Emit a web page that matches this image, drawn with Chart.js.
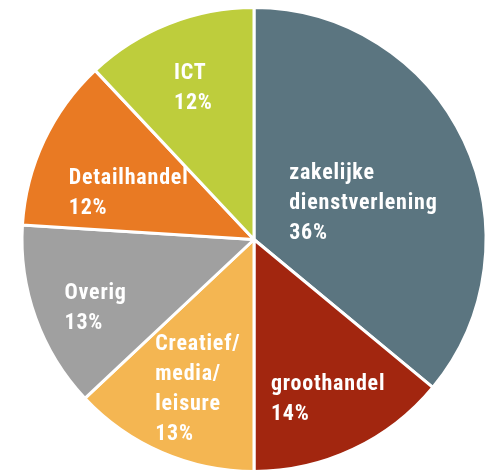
<!DOCTYPE html>
<html>
<head>
<meta charset="utf-8">
<script src="https://cdn.jsdelivr.net/npm/chart.js@4.4.1/dist/chart.umd.min.js"></script>
<style>
  html, body { margin: 0; padding: 0; background: #fff; }
  #wrap { width: 495px; height: 473px; }
</style>
</head>
<body>
<div id="wrap"><canvas id="pie"></canvas></div>
<script>
// sectoren, met de klok mee vanaf 12 uur
const categories = [
    ['zakelijke', 'dienstverlening'],
    ['groothandel'],
    ['Creatief/', 'media/', 'leisure'],
    ['Overig'],
    ['Detailhandel'],
    ['ICT']
];
const shares = [36, 14, 13, 13, 12, 12];
const sliceColors = ['#5B7580', '#A2260F', '#F4B652', '#A0A0A0', '#E97A23', '#BECD3C'];

// plaats van de labels in elke sector (hoek-correctie in graden, fractie van de straal)
const labelAngleShift = [5.7, 0, -2.5, -2.9, -3.9, 0];
const labelRadius = [0.50, 0.75, 0.68, 0.74, 0.58, 0.71];

const labelFont = "bold 22px 'Roboto Condensed', 'Liberation Sans Narrow', 'DejaVu Sans Condensed', sans-serif";
const lineHeight = 30;

// labels zelf tekenen, in de sectoren
const sliceLabels = {
    id: 'sliceLabels',
    afterDatasetsDraw(chart) {
        const ctx = chart.ctx;
        const arcs = chart.getDatasetMeta(0).data;
        ctx.save();
        ctx.font = labelFont;
        ctx.fillStyle = '#fff';
        ctx.textAlign = 'left';
        ctx.textBaseline = 'alphabetic';
        if ('letterSpacing' in ctx) ctx.letterSpacing = '0.8px';
        arcs.forEach((arc, i) => {
            const p = arc.getProps(['x', 'y', 'startAngle', 'endAngle', 'outerRadius'], true);
            const mid = (p.startAngle + p.endAngle) / 2 + labelAngleShift[i] * Math.PI / 180;
            const r = p.outerRadius * labelRadius[i];
            const cx = p.x + Math.cos(mid) * r;
            const cy = p.y + Math.sin(mid) * r;
            const lines = categories[i].concat([shares[i] + '%']);
            const w = Math.max(...lines.map(l => ctx.measureText(l).width));
            const left = cx - w / 2;
            const base = cy - (lines.length - 1) * lineHeight / 2 + 8;
            lines.forEach((l, k) => ctx.fillText(l, left, base + k * lineHeight));
        });
        ctx.restore();
    }
};

new Chart(document.getElementById('pie'), {
    type: 'pie',
    data: {
        labels: categories.map(c => c.join(' ')),
        datasets: [{
            data: shares,
            backgroundColor: sliceColors,
            borderColor: '#fff',
            borderWidth: 3
        }]
    },
    options: {
        responsive: true,
        maintainAspectRatio: false,
        animation: false,
        layout: { padding: { left: 20, right: 7, top: 6, bottom: 0 } },
        plugins: {
            legend: { display: false },
            tooltip: { enabled: false }
        }
    },
    plugins: [sliceLabels]
});
</script>
</body>
</html>
